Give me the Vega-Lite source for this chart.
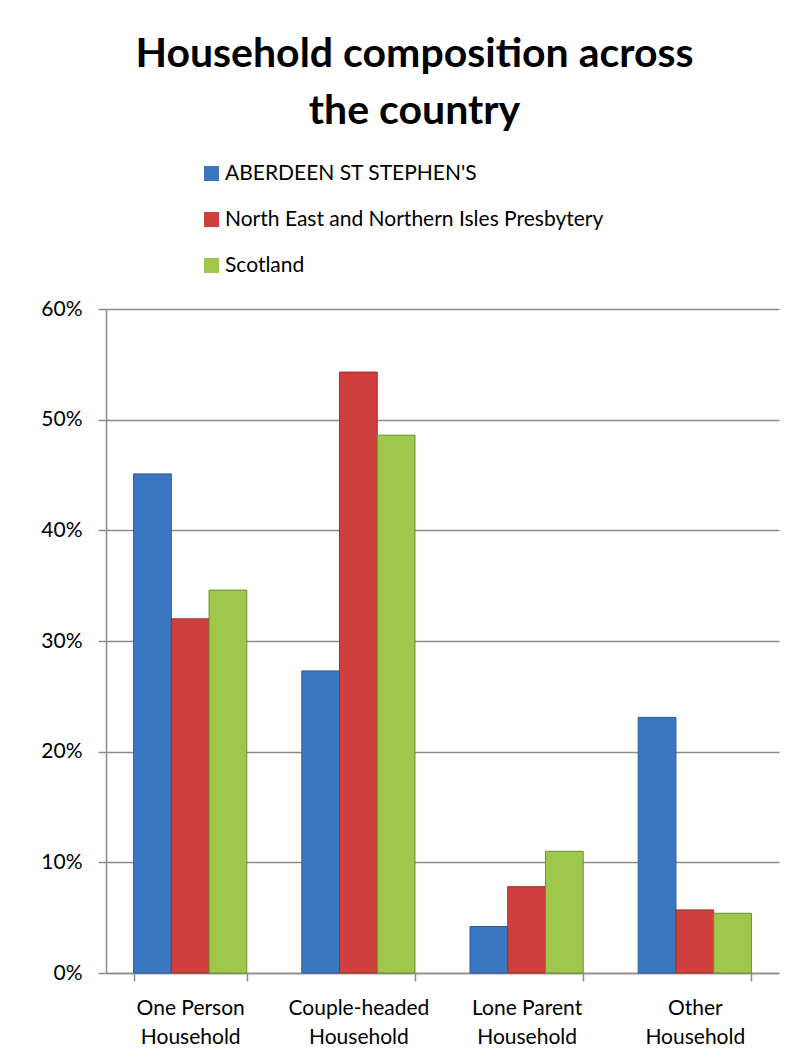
{
  "$schema": "https://vega.github.io/schema/vega-lite/v6.json",
  "width": 673,
  "height": 664,
  "autosize": "none",
  "padding": {"left": 106, "top": 309, "right": 30, "bottom": 89},
  "background": "white",
  "title": {
    "text": ["Household composition across", "the country"],
    "font": "Lato",
    "fontSize": 41,
    "fontWeight": "bold",
    "color": "black",
    "anchor": "middle",
    "dx": -28,
    "lineHeight": 57,
    "offset": 30
  },
  "data": {
    "values": [
      {"category": "One Person Household", "series": "ABERDEEN ST STEPHEN'S", "value": 0.451},
      {"category": "One Person Household", "series": "North East and Northern Isles Presbytery", "value": 0.320},
      {"category": "One Person Household", "series": "Scotland", "value": 0.346},
      {"category": "Couple-headed Household", "series": "ABERDEEN ST STEPHEN'S", "value": 0.273},
      {"category": "Couple-headed Household", "series": "North East and Northern Isles Presbytery", "value": 0.543},
      {"category": "Couple-headed Household", "series": "Scotland", "value": 0.486},
      {"category": "Lone Parent Household", "series": "ABERDEEN ST STEPHEN'S", "value": 0.042},
      {"category": "Lone Parent Household", "series": "North East and Northern Isles Presbytery", "value": 0.078},
      {"category": "Lone Parent Household", "series": "Scotland", "value": 0.110},
      {"category": "Other Household", "series": "ABERDEEN ST STEPHEN'S", "value": 0.231},
      {"category": "Other Household", "series": "North East and Northern Isles Presbytery", "value": 0.057},
      {"category": "Other Household", "series": "Scotland", "value": 0.054}
    ]
  },
  "mark": {"type": "bar", "strokeWidth": 1},
  "encoding": {
    "x": {
      "field": "category",
      "type": "nominal",
      "sort": ["One Person Household", "Couple-headed Household", "Lone Parent Household", "Other Household"],
      "scale": {"paddingInner": 0.327, "paddingOuter": 0.164},
      "axis": {
        "title": null,
        "labelAngle": 0,
        "labelExpr": "datum.label ? [replace(datum.label, ' Household', ''), 'Household'] : ''",
        "labelFont": "Lato",
        "labelFontSize": 21,
        "labelColor": "black",
        "labelLineHeight": 29,
        "labelPadding": 16,
        "labelFlush": false,
        "labelOverlap": false,
        "labelBound": false,
        "labelAlign": "center",
        "tickBand": "extent",
        "tickSize": 8,
        "tickColor": "#8c8c8c",
        "tickWidth": 1.5,
        "domainColor": "#8c8c8c",
        "domainWidth": 1.5,
        "grid": false
      }
    },
    "xOffset": {
      "field": "series",
      "type": "nominal",
      "sort": ["ABERDEEN ST STEPHEN'S", "North East and Northern Isles Presbytery", "Scotland"],
      "scale": {"paddingInner": 0, "paddingOuter": 0}
    },
    "y": {
      "field": "value",
      "type": "quantitative",
      "scale": {"domain": [0, 0.6], "nice": false},
      "axis": {
        "title": null,
        "values": [0, 0.1, 0.2, 0.3, 0.4, 0.5, 0.6],
        "format": ".0%",
        "labelFont": "Lato",
        "labelFontSize": 21,
        "labelColor": "black",
        "labelPadding": 16,
        "tickSize": 8,
        "tickColor": "#8c8c8c",
        "tickWidth": 1.5,
        "domainColor": "#8c8c8c",
        "domainWidth": 1.5,
        "grid": true,
        "gridColor": "#8c8c8c",
        "gridWidth": 1.5
      }
    },
    "color": {
      "field": "series",
      "type": "nominal",
      "sort": ["ABERDEEN ST STEPHEN'S", "North East and Northern Isles Presbytery", "Scotland"],
      "scale": {"range": ["#3b76c1", "#cf3f3d", "#9fc74c"]},
      "legend": {
        "title": null,
        "orient": "none",
        "legendX": 95,
        "legendY": -146,
        "direction": "vertical",
        "symbolType": "square",
        "symbolSize": 225,
        "symbolStrokeWidth": 0,
        "labelFont": "Lato",
        "labelFontSize": 21,
        "labelColor": "black",
        "labelOffset": 3,
        "labelLimit": 0,
        "rowPadding": 24,
        "padding": 0
      }
    },
    "stroke": {
      "field": "series",
      "type": "nominal",
      "sort": ["ABERDEEN ST STEPHEN'S", "North East and Northern Isles Presbytery", "Scotland"],
      "scale": {"range": ["#2d5d99", "#9e2f2d", "#6f8f30"]},
      "legend": null
    }
  },
  "config": {
    "view": {"stroke": null}
  }
}
